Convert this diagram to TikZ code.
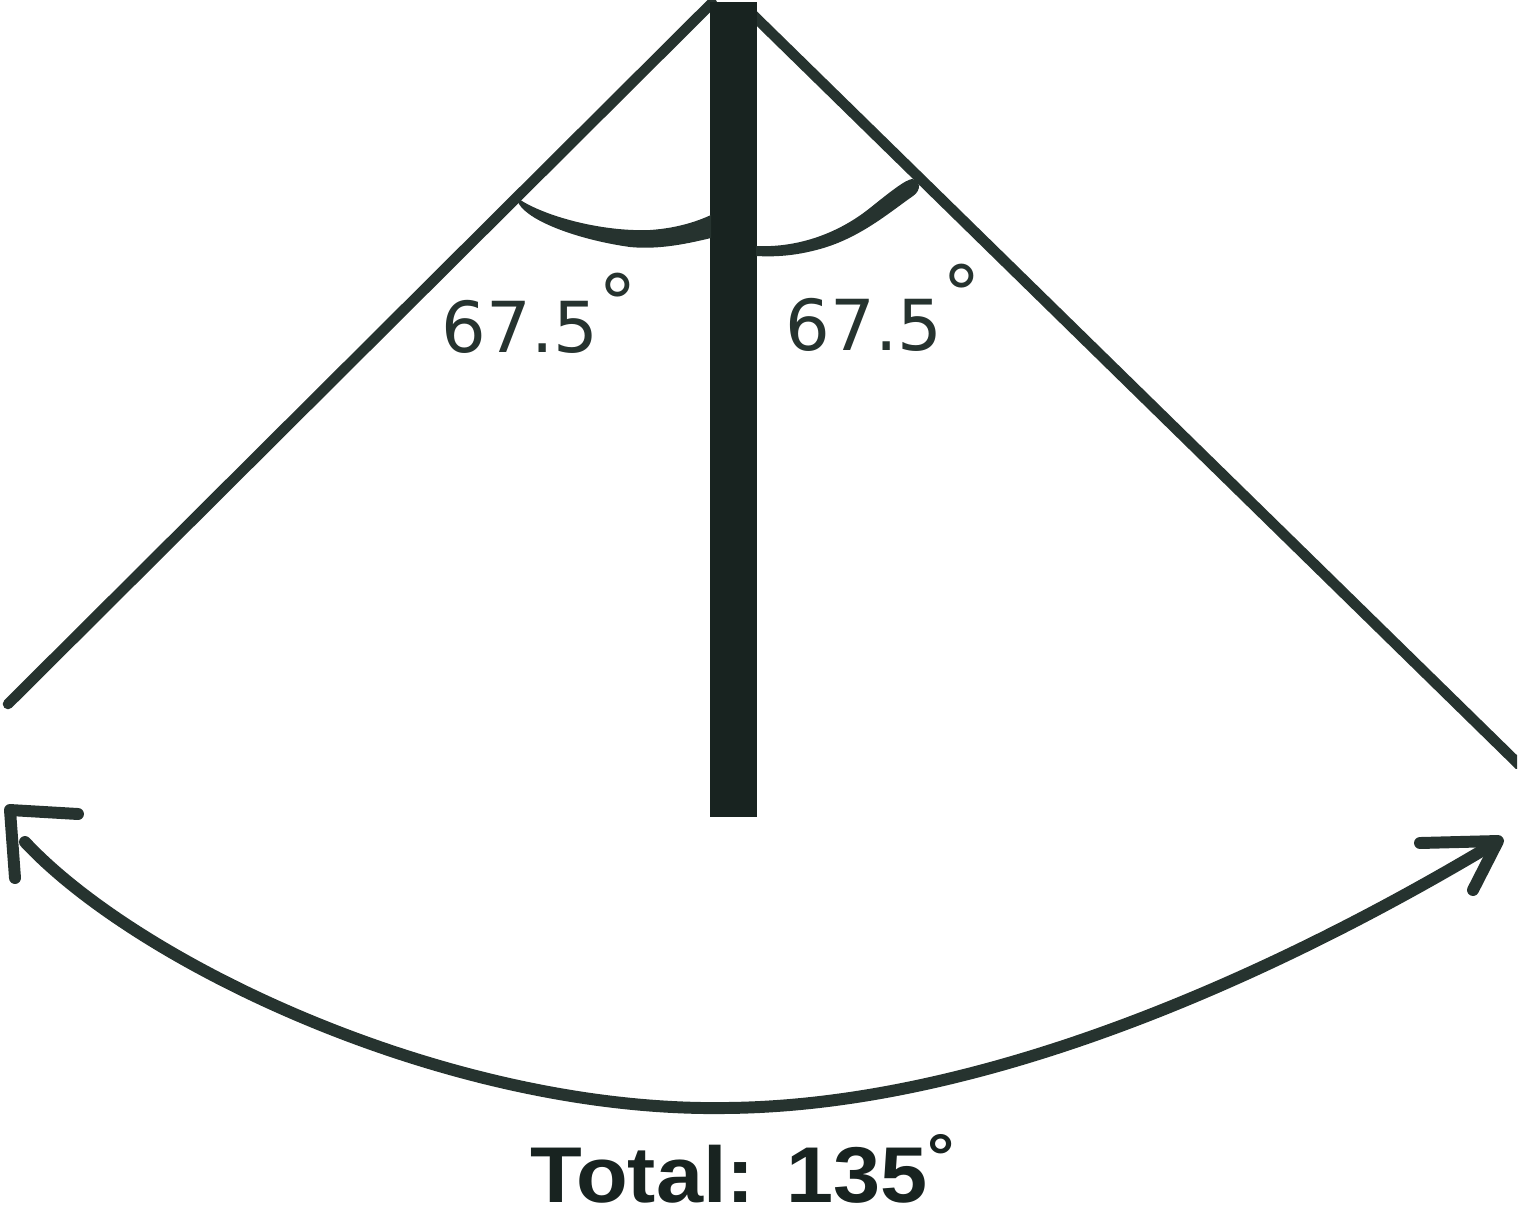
\documentclass[tikz,border=0pt]{standalone}
\usepackage{fontspec}
\setmainfont{Liberation Sans}
\newfontfamily\handfont{DejaVu Sans}
\definecolor{ink}{RGB}{38,51,47}
\definecolor{barcol}{RGB}{24,35,32}
\begin{document}
\begin{tikzpicture}[x=0.01cm,y=-0.01cm,
  diag/.style={draw=ink,line width=3pt,line cap=round},
  sweep/.style={draw=ink,line width=3.4pt,line cap=round},
  tip/.style={draw=ink,line width=3.4pt,line cap=round,line join=round},
  hand/.style={text=ink,font=\handfont\fontsize{20pt}{20pt}\selectfont,inner sep=0pt},
  total/.style={text=barcol,font=\bfseries\addfontfeature{FakeStretch=1.07}\fontsize{22.5pt}{22.5pt}\selectfont,inner sep=0pt}]
\useasboundingbox (0,0) rectangle (1520,1214);
\clip (0,0) rectangle (1520,1214);
\coordinate (lt) at (712,3);
\coordinate (lb) at (8,704);
\coordinate (rt) at (750,12);
\coordinate (rb) at (1545,790);
% diagonals
\draw[diag] (lb) -- (lt);
\begin{scope}
  \clip (0,0) rectangle (1517,768);
  \draw[diag,line cap=butt] (rt) -- (rb);
\end{scope}
% central bar
\fill[barcol] (710,2) rectangle (757,817);
% angle arcs
\fill[ink] (516,197) .. controls (540,215) and (600,232) .. (650,230)
  .. controls (680,228) and (700,220) .. (711,215) -- (711,238)
  .. controls (690,243) and (660,250) .. (630,247)
  .. controls (580,240) and (530,222) .. (519,204) -- cycle;
\fill[ink] (756,246) .. controls (800,248) and (840,232) .. (870,208)
  .. controls (890,192) and (905,180) .. (912,179)
  .. controls (920,180) and (922,190) .. (913,196)
  .. controls (890,212) and (860,238) .. (820,249)
  .. controls (795,256) and (775,257) .. (756,256) -- cycle;
% labels
\node[hand,anchor=base west] (l1) at (441,352) {67.5\raisebox{0.3em}{\fontsize{22pt}{22pt}\selectfont°}};
\node[hand,anchor=base west] (l2) at (785,350) {67.5\raisebox{0.4em}{\fontsize{22pt}{22pt}\selectfont°}};
% total sweep
\coordinate (s0) at (25,842);
\coordinate (sm) at (725,1108);
\coordinate (s1) at (1495,843);
\draw[sweep] (s0) .. controls (140,965) and (450,1112) .. (sm)
  .. controls (1000,1106) and (1300,960) .. (s1);
\draw[tip] (15,878) -- (10,810) -- (78,814);
\draw[tip] (1420,843) -- (1498,841) -- (1473,890);
\node[total,anchor=base west] (tot) at (530,1202) {Total: 135\raisebox{0.3em}{\fontsize{18pt}{18pt}\selectfont°}};
\end{tikzpicture}
\end{document}
